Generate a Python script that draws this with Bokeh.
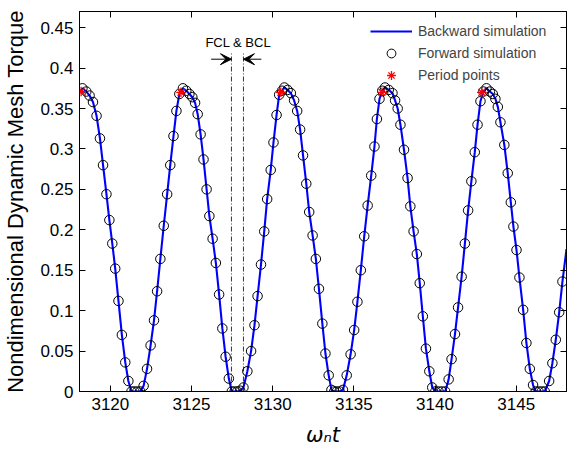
from bokeh.plotting import figure
from bokeh.models import (LinearAxis, Range1d, Label, Arrow, VeeHead, Legend,
                          LegendItem, FixedTicker)
from bokeh.embed import file_html
from bokeh.resources import INLINE

# ---------------- data ----------------
fwd_t = [
    3118.28, 3118.52, 3118.72, 3118.93, 3119.15, 3119.36, 3119.55, 3119.76, 3119.94, 3120.12,
    3120.30, 3120.50, 3120.71, 3120.92, 3121.11, 3121.30, 3121.48, 3121.66, 3121.85, 3122.05,
    3122.26, 3122.48, 3122.69, 3122.88, 3123.08, 3123.29, 3123.50, 3123.69, 3123.89, 3124.07,
    3124.25, 3124.47,
    3124.68, 3124.87, 3125.05, 3125.22, 3125.38, 3125.56, 3125.74, 3125.93, 3126.10, 3126.30,
    3126.50, 3126.70, 3126.90, 3127.10, 3127.30, 3127.48, 3127.65, 3127.82, 3128.00, 3128.20,
    3128.44, 3128.67, 3128.88, 3129.07, 3129.28, 3129.48, 3129.66, 3129.88, 3130.05, 3130.24,
    3130.40, 3130.58, 3130.72,
    3130.92, 3131.12, 3131.32, 3131.51, 3131.69, 3131.87, 3132.07, 3132.25, 3132.46, 3132.66,
    3132.85, 3133.06, 3133.25, 3133.45, 3133.62, 3133.79, 3133.95, 3134.12, 3134.33, 3134.56,
    3134.80, 3135.02, 3135.22, 3135.43, 3135.64, 3135.85, 3136.07, 3136.27, 3136.42, 3136.58,
    3136.75, 3136.92,
    3137.15, 3137.38, 3137.54, 3137.70, 3137.87, 3138.09, 3138.31, 3138.48, 3138.68, 3138.88,
    3139.06, 3139.25, 3139.44, 3139.65, 3139.83, 3140.02, 3140.22, 3140.42, 3140.63, 3140.84,
    3141.02, 3141.23, 3141.42, 3141.64, 3141.84, 3142.04, 3142.24, 3142.45, 3142.62, 3142.80,
    3142.98,
    3143.17, 3143.38, 3143.56, 3143.72, 3143.87, 3144.03, 3144.27, 3144.48, 3144.67, 3144.83,
    3145.02, 3145.20, 3145.43, 3145.63, 3145.84, 3146.04, 3146.20, 3146.38, 3146.57, 3146.76,
    3147.03, 3147.23, 3147.44, 3147.65, 3147.85,
]
fwd_y = [
    0.375, 0.371, 0.366, 0.358, 0.341, 0.313, 0.280, 0.244, 0.212, 0.183,
    0.152, 0.112, 0.070, 0.036, 0.013, 0.000, 0.000, 0.000, 0.000, 0.007,
    0.028, 0.057, 0.088, 0.124, 0.164, 0.205, 0.244, 0.280, 0.316, 0.347,
    0.368, 0.375,
    0.372, 0.368, 0.364, 0.357, 0.343, 0.318, 0.287, 0.250, 0.217, 0.189,
    0.159, 0.120, 0.078, 0.043, 0.016, 0.000, 0.000, 0.000, 0.001, 0.005,
    0.025, 0.050, 0.082, 0.118, 0.157, 0.198, 0.238, 0.274, 0.308, 0.342,
    0.367, 0.372, 0.376,
    0.373, 0.369, 0.360, 0.347, 0.324, 0.292, 0.257, 0.222, 0.193, 0.164,
    0.127, 0.084, 0.047, 0.020, 0.002, 0.000, 0.000, 0.000, 0.002, 0.020,
    0.046, 0.076, 0.111, 0.150, 0.192, 0.230, 0.267, 0.303, 0.337, 0.362,
    0.372, 0.376,
    0.373, 0.369, 0.360, 0.350, 0.330, 0.299, 0.264, 0.229, 0.198, 0.170,
    0.134, 0.093, 0.053, 0.025, 0.005, 0.000, 0.000, 0.000, 0.000, 0.015,
    0.040, 0.071, 0.104, 0.142, 0.183, 0.224, 0.260, 0.296, 0.330, 0.359,
    0.371,
    0.375, 0.371, 0.368, 0.362, 0.352, 0.333, 0.305, 0.270, 0.234, 0.204,
    0.175, 0.141, 0.101, 0.060, 0.028, 0.008, 0.000, 0.000, 0.000, 0.000,
    0.013, 0.035, 0.064, 0.098, 0.136,
]
# backward simulation: same trajectory, extended to the frame edges
bwd_head_t = [3118.1]
bwd_head_y = [0.370]
bwd_tail_t = [3148.1]
bwd_tail_y = [0.176]
bwd_t = bwd_head_t + fwd_t + bwd_tail_t
bwd_y = bwd_head_y + fwd_y + bwd_tail_y

period_t = [3118.20, 3124.35, 3130.50, 3136.73, 3142.88]
period_y = [0.371, 0.370, 0.370, 0.370, 0.370]

fcl_t = 3127.46
bcl_t = 3128.20

x_ticks = [3120, 3125, 3130, 3135, 3140, 3145]
y_ticks = [0, 0.05, 0.1, 0.15, 0.2, 0.25, 0.3, 0.35, 0.4, 0.45]
y_tick_labels = ["0", "0.05", "0.1", "0.15", "0.2", "0.25", "0.3", "0.35", "0.4", "0.45"]

FONT = "Liberation Sans"

# ---------------- figure ----------------
p = figure(width=567, height=449, x_range=Range1d(3118.1, 3148.1),
           y_range=Range1d(0, 0.47), output_backend="svg", toolbar_location=None)
p.min_border_left = 79
p.min_border_right = 1
p.min_border_top = 11
p.min_border_bottom = 55
p.grid.visible = False
p.background_fill_color = "white"
p.border_fill_color = "white"
p.outline_line_color = "black"
p.outline_line_width = 1

for ax in (p.xaxis[0], p.yaxis[0]):
    ax.major_tick_in = 6
    ax.major_tick_out = 0
    ax.minor_tick_line_color = None
    ax.axis_line_color = "black"
    ax.major_tick_line_color = "black"
    ax.major_label_text_font = FONT
    ax.major_label_text_font_size = "17px"
    ax.major_label_text_color = "black"
    ax.major_label_standoff = 6

p.xaxis[0].ticker = FixedTicker(ticks=x_ticks)
p.xaxis[0].axis_label = "\u03c9\u2099t"
p.xaxis[0].axis_label_text_font = "DejaVu Sans"
p.xaxis[0].axis_label_text_font_size = "21px"
p.xaxis[0].axis_label_text_font_style = "italic"
p.xaxis[0].axis_label_text_color = "black"
p.xaxis[0].axis_label_standoff = 10

p.yaxis[0].ticker = FixedTicker(ticks=y_ticks)
p.yaxis[0].major_label_overrides = {v: s for v, s in zip(y_ticks, y_tick_labels)}
p.yaxis[0].axis_label = "Nondimensional Dynamic Mesh Torque"
p.yaxis[0].axis_label_text_font = FONT
p.yaxis[0].axis_label_text_font_size = "22px"
p.yaxis[0].axis_label_text_font_style = "normal"
p.yaxis[0].axis_label_text_color = "black"
p.yaxis[0].axis_label_standoff = 9

# mirrored top / right axes with inward ticks, no labels
top = LinearAxis(ticker=FixedTicker(ticks=x_ticks), major_tick_in=6, major_tick_out=0,
                 minor_tick_line_color=None, major_label_text_font_size="1px",
                 major_label_overrides={v: "" for v in x_ticks},
                 major_label_standoff=0)
right = LinearAxis(ticker=FixedTicker(ticks=y_ticks), major_tick_in=6, major_tick_out=0,
                   minor_tick_line_color=None, major_label_text_font_size="1px",
                   major_label_overrides={v: "" for v in y_ticks},
                   major_label_standoff=0)
p.add_layout(top, "above")
p.add_layout(right, "right")

# ---------------- glyphs ----------------
line_r = p.line(bwd_t, bwd_y, line_color="#0000ff", line_width=2.1)
circ_r = p.scatter(fwd_t, fwd_y, marker="circle", size=9.5, fill_color=None,
                   line_color="black", line_width=1)
star_r = p.scatter(period_t, period_y, marker="asterisk", size=9.5,
                   line_color="red", line_width=1.3)

# FCL & BCL markers
for xv in (fcl_t, bcl_t):
    p.line([xv, xv], [0, 0.418], line_color="black", line_width=0.8,
           line_dash="5 2 1 2")
p.add_layout(Arrow(end=VeeHead(size=11, fill_color="black", line_color="black"),
                   x_start=fcl_t - 1.25, y_start=0.411, x_end=fcl_t, y_end=0.411,
                   line_color="black", line_width=1))
p.add_layout(Arrow(end=VeeHead(size=11, fill_color="black", line_color="black"),
                   x_start=bcl_t + 1.1, y_start=0.411, x_end=bcl_t, y_end=0.411,
                   line_color="black", line_width=1))
p.add_layout(Label(x=(fcl_t + bcl_t) / 2 + 0.05, y=0.432, text="FCL & BCL",
                   text_font=FONT, text_font_size="13px", text_align="center",
                   text_baseline="middle", text_color="black"))

# ---------------- legend ----------------
legend = Legend(items=[
    LegendItem(label="Backward simulation", renderers=[line_r]),
    LegendItem(label="Forward simulation", renderers=[circ_r]),
    LegendItem(label="Period points", renderers=[star_r]),
], location="top_right")
legend.border_line_color = None
legend.background_fill_alpha = 0
legend.label_text_font = FONT
legend.label_text_font_size = "14px"
legend.glyph_width = 42
legend.glyph_height = 22
legend.label_height = 22
legend.label_width = 139
legend.label_standoff = 6
legend.spacing = 0
legend.margin = 9
p.add_layout(legend)

open("out.html", "w").write(file_html(p, INLINE))
